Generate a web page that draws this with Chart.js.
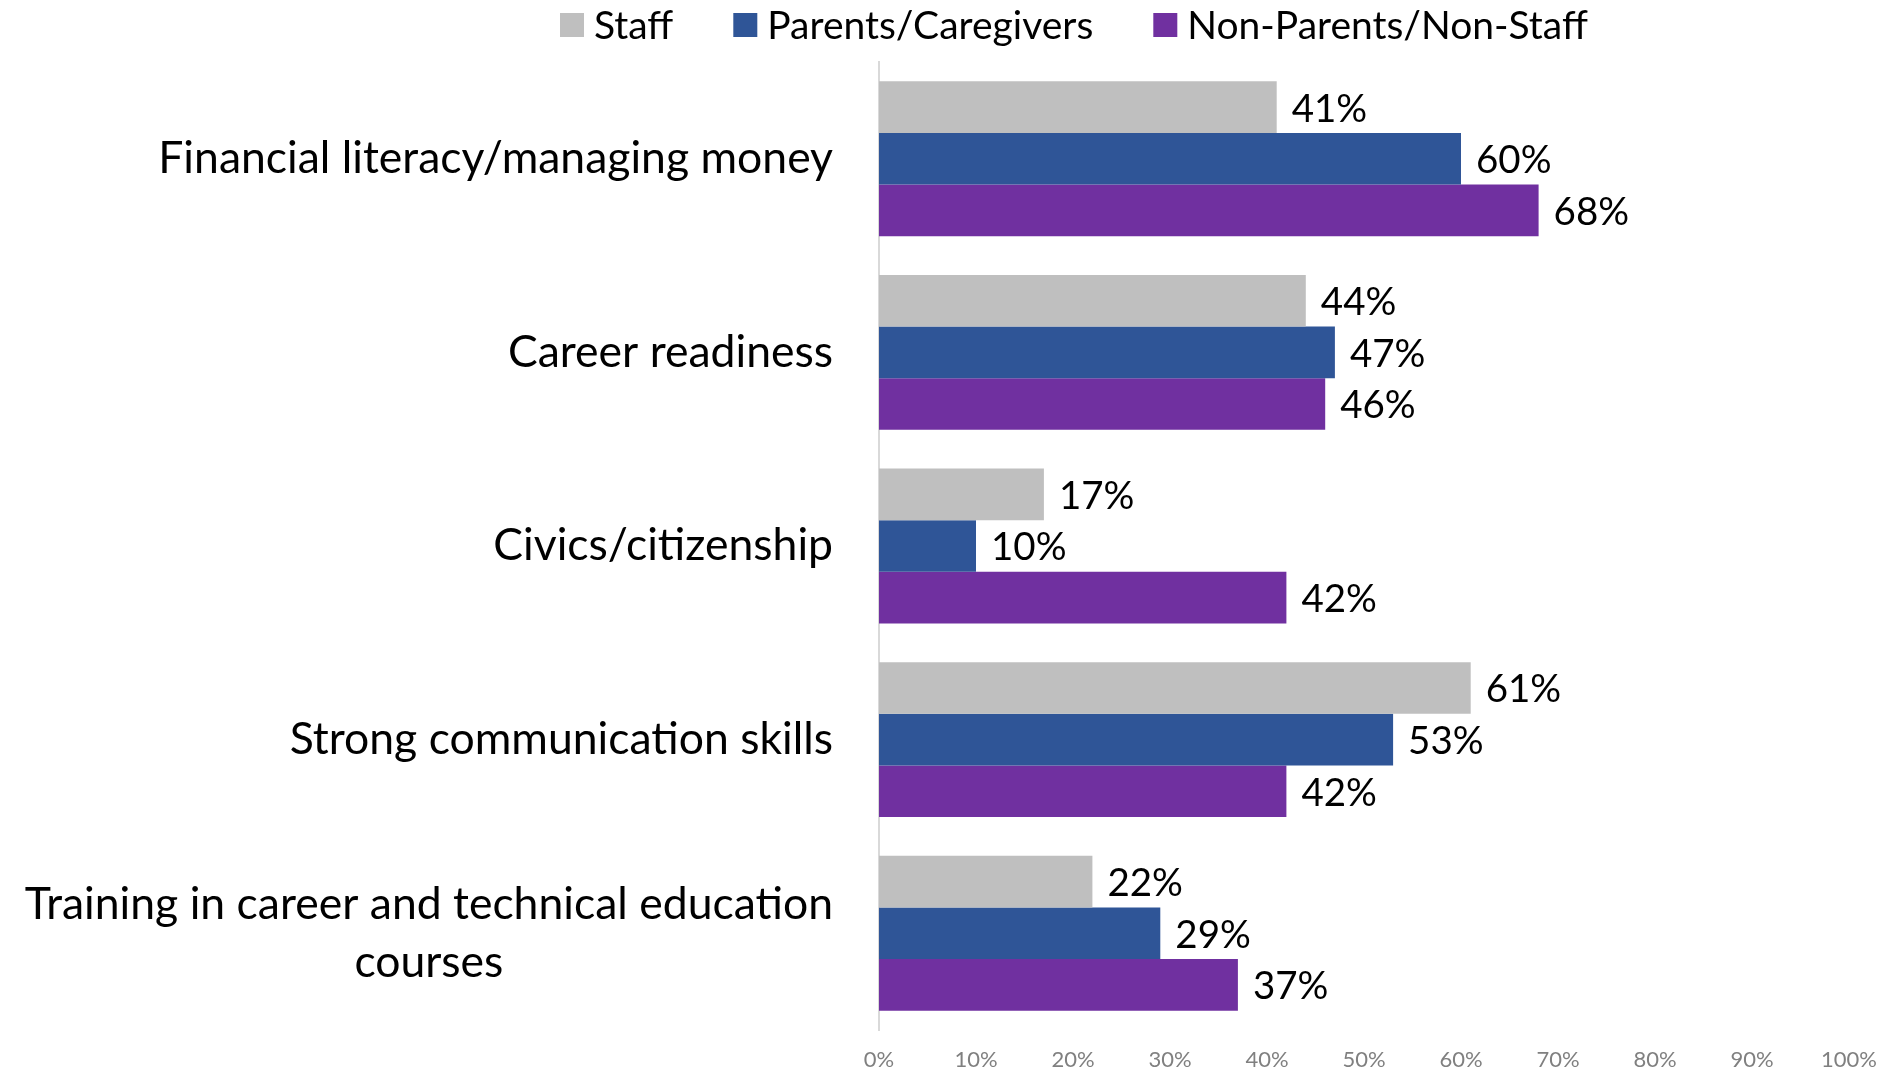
<!DOCTYPE html>
<html>
<head>
<meta charset="utf-8">
<script src="https://cdn.jsdelivr.net/npm/chart.js@4.4.1/dist/chart.umd.min.js"></script>
<style>
  html, body { margin: 0; padding: 0; background: #fff; }
  #wrap { width: 1883px; height: 1075px; }
</style>
</head>
<body>
<div id="wrap"><canvas id="chart"></canvas></div>
<script>
// Datos del gráfico
const categories = [
  "Financial literacy/managing money",
  "Career readiness",
  "Civics/citizenship",
  "Strong communication skills",
  ["Training in career and technical education", "courses"],
];
const seriesNames = ["Staff", "Parents/Caregivers", "Non-Parents/Non-Staff"];
const staff = [41, 44, 17, 61, 22];
const parents = [60, 47, 10, 53, 29];
const nonParents = [68, 46, 42, 42, 37];
const seriesColors = ["#BFBFBF", "#2F5597", "#7030A0"];
const xTicks = [0, 10, 20, 30, 40, 50, 60, 70, 80, 90, 100];

const FONT = "Lato, 'Open Sans', sans-serif";

// Etiquetas de categoría (centradas por línea, bloque alineado a la derecha)
const categoryLabels = {
  id: "categoryLabels",
  afterDraw(chart) {
    const ctx = chart.ctx;
    const y = chart.scales.y;
    const right = chart.chartArea.left - 46;
    ctx.save();
    ctx.font = "44.5px " + FONT;
    ctx.fillStyle = "#000";
    ctx.textBaseline = "middle";
    categories.forEach((label, i) => {
      const lines = Array.isArray(label) ? label : [label];
      const yc = y.getPixelForValue(i);
      const lineH = 58;
      const maxW = Math.max(...lines.map((l) => ctx.measureText(l).width));
      ctx.textAlign = "center";
      lines.forEach((l, j) => {
        const ly = yc + (j - (lines.length - 1) / 2) * lineH;
        ctx.fillText(l, right - maxW / 2, ly);
      });
    });
    ctx.restore();
  },
};

// Etiquetas de valor al final de cada barra
const valueLabels = {
  id: "valueLabels",
  afterDatasetsDraw(chart) {
    const ctx = chart.ctx;
    ctx.save();
    ctx.font = "38.5px " + FONT;
    ctx.fillStyle = "#000";
    ctx.textAlign = "left";
    ctx.textBaseline = "middle";
    chart.data.datasets.forEach((ds, di) => {
      chart.getDatasetMeta(di).data.forEach((bar, i) => {
        ctx.fillText(ds.data[i] + "%", bar.x + 15, bar.y + 2);
      });
    });
    ctx.restore();
  },
};

// Leyenda dibujada a mano
const topLegend = {
  id: "topLegend",
  afterDraw(chart) {
    const ctx = chart.ctx;
    ctx.save();
    ctx.font = "39px " + FONT;
    ctx.textBaseline = "middle";
    ctx.textAlign = "left";
    let x = 560;
    const yc = 25;
    seriesNames.forEach((name, i) => {
      ctx.fillStyle = seriesColors[i];
      ctx.fillRect(x, yc - 12, 24, 24);
      ctx.fillStyle = "#000";
      ctx.fillText(name, x + 34, yc + 1);
      x += 34 + ctx.measureText(name).width + 60;
    });
    ctx.restore();
  },
};

new Chart(document.getElementById("chart").getContext("2d"), {
  type: "bar",
  data: {
    labels: categories,
    datasets: [
      { label: seriesNames[0], data: staff, backgroundColor: seriesColors[0] },
      { label: seriesNames[1], data: parents, backgroundColor: seriesColors[1] },
      { label: seriesNames[2], data: nonParents, backgroundColor: seriesColors[2] },
    ],
  },
  options: {
    indexAxis: "y",
    responsive: true,
    maintainAspectRatio: false,
    animation: false,
    layout: { padding: { top: 62, right: 34, left: 0, bottom: 0 } },
    datasets: {
      bar: { categoryPercentage: 0.8, barPercentage: 1.0 },
    },
    plugins: {
      legend: { display: false },
      tooltip: { enabled: false },
    },
    scales: {
      x: {
        min: 0,
        max: 100,
        afterBuildTicks: (s) => { s.ticks = xTicks.map((v) => ({ value: v })); },
        afterFit: (s) => {
          s.height = 45;
          s.paddingLeft = 0;
          s.paddingRight = 0;
        },
        grid: { display: false, drawTicks: false },
        border: { display: false },
        ticks: {
          color: "#808080",
          font: { family: FONT, size: 22 },
          padding: 17,
          callback: (v) => v + "%",
        },
      },
      y: {
        afterFit: (s) => { s.width = 879; },
        grid: { display: false, drawTicks: false },
        border: { display: true, color: "#D9D9D9", width: 2 },
        ticks: { display: false },
      },
    },
  },
  plugins: [categoryLabels, valueLabels, topLegend],
});
</script>
</body>
</html>
